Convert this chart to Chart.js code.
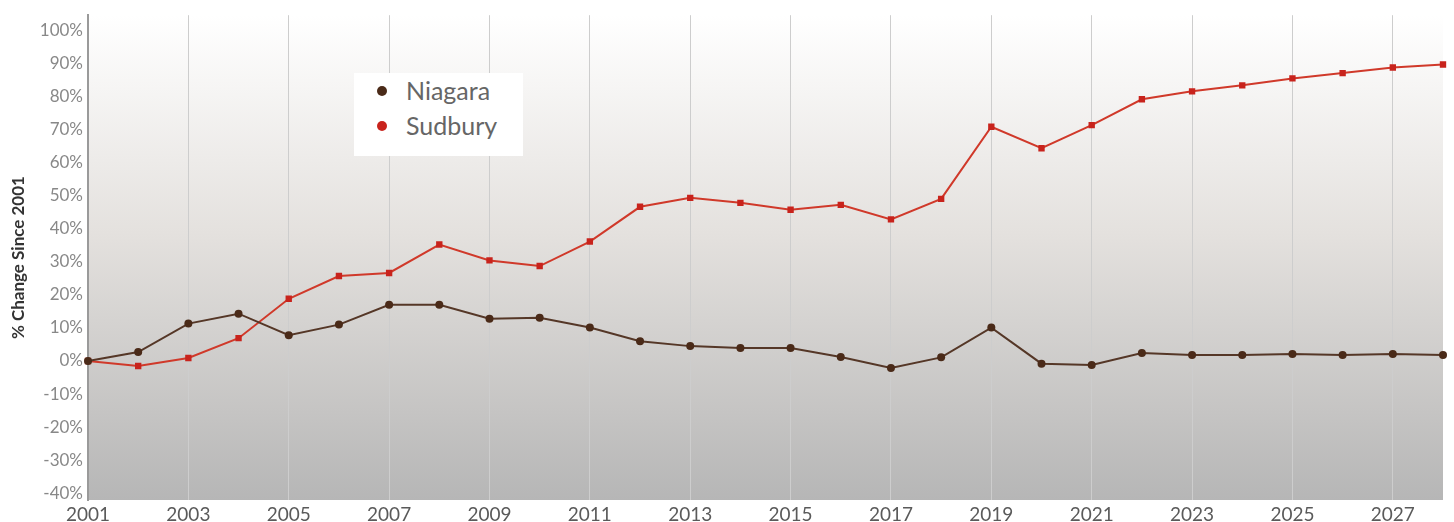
<!DOCTYPE html>
<html>
<head>
<meta charset="utf-8">
<script src="https://cdn.jsdelivr.net/npm/chart.js@4"></script>
<style>
  html, body { margin: 0; padding: 0; background: #ffffff; }
  #wrap { position: relative; width: 1454px; height: 522px; }
  #legend {
    position: absolute; left: 354px; top: 73px; width: 169px; height: 83px;
    background: #ffffff; font-family: Lato, "Open Sans", sans-serif; font-size: 25px; color: #666666;
    box-sizing: border-box; padding-top: 0px;
  }
  #legend .item { position: relative; height: 35px; line-height: 35px; padding-left: 52px; }
  #legend .dot { position: absolute; left: 23px; top: 13px; width: 10px; height: 10px; border-radius: 50%; }
</style>
</head>
<body>
<div id="wrap">
  <canvas id="c" width="1454" height="522"></canvas>
  <div id="legend">
    <div class="item"><span class="dot" style="background:#4a2a18"></span>Niagara</div>
    <div class="item"><span class="dot" style="background:#c8231c"></span>Sudbury</div>
  </div>
</div>
<script>
// Years along the horizontal axis
const years = [2001, 2002, 2003, 2004, 2005, 2006, 2007, 2008, 2009, 2010, 2011, 2012, 2013, 2014,
               2015, 2016, 2017, 2018, 2019, 2020, 2021, 2022, 2023, 2024, 2025, 2026, 2027, 2028];
// % change since 2001
const niagara = [0, 2.7, 11.3, 14.3, 7.8, 11, 17, 17, 12.8, 13.1, 10.1, 6, 4.5, 3.9,
                 3.9, 1.2, -2.1, 1.1, 10.1, -0.8, -1.2, 2.4, 1.8, 1.8, 2.1, 1.8, 2.1, 1.8];
const sudbury = [0, -1.5, 0.9, 6.9, 18.8, 25.7, 26.6, 35.2, 30.4, 28.7, 36.1, 46.6, 49.3, 47.8,
                 45.7, 47.2, 42.8, 49, 70.8, 64.3, 71.3, 79.1, 81.5, 83.3, 85.4, 87, 88.7, 89.6];
// Value axis ticks
const yTicks = [-40, -30, -20, -10, 0, 10, 20, 30, 40, 50, 60, 70, 80, 90, 100];

const plotBackground = {
  id: 'plotBackground',
  beforeDraw(chart) {
    const { ctx, chartArea: a } = chart;
    const g = ctx.createLinearGradient(0, a.top, 0, a.bottom);
    g.addColorStop(0, '#ffffff');
    g.addColorStop(0.45, '#e4e1de');
    g.addColorStop(1, '#b6b6b6');
    ctx.save();
    ctx.fillStyle = g;
    ctx.fillRect(a.left, a.top, a.right - a.left, a.bottom - a.top);
    ctx.restore();
  }
};

new Chart(document.getElementById('c'), {
  type: 'line',
  data: {
    labels: years.map(String),
    datasets: [
      {
        label: 'Niagara', data: niagara,
        borderColor: '#553727', backgroundColor: '#4a2a18',
        borderWidth: 2, pointStyle: 'circle', pointRadius: 4,
        pointBorderWidth: 0, tension: 0
      },
      {
        label: 'Sudbury', data: sudbury,
        borderColor: '#d0392a', backgroundColor: '#c8231c',
        borderWidth: 2, pointStyle: 'rect', pointRadius: 4.5,
        pointBorderWidth: 0, tension: 0
      }
    ]
  },
  options: {
    responsive: false,
    animation: false,
    layout: { padding: { top: 9, right: 11, left: 0, bottom: 0 } },
    plugins: { legend: { display: false }, tooltip: { enabled: false } },
    scales: {
      x: {
        type: 'category',
        offset: false,
        border: { display: false },
        grid: {
          drawTicks: false,
          color: (c) => (c.index % 2 === 0 && c.index > 0) ? '#cdcdcd' : 'rgba(0,0,0,0)',
          lineWidth: 1
        },
        afterFit: (s) => { s.height = 22; },
        ticks: {
          autoSkip: false, maxRotation: 0, padding: 3,
          color: '#5a5a5a',
          font: { family: 'Lato', size: 19 },
          callback: (v, i) => (i % 2 === 0 ? years[i] : '')
        }
      },
      y: {
        min: -42, max: 104.5,
        afterBuildTicks: (s) => { s.ticks = yTicks.map(v => ({ value: v })); },
        afterFit: (s) => { s.width = 88; },
        border: { display: true, color: '#9a9a9a', width: 2 },
        grid: { display: false, drawTicks: false },
        ticks: {
          padding: 5,
          color: '#888888',
          font: { family: 'Lato', size: 17 },
          callback: (v) => v + '%'
        },
        title: {
          display: true, text: '% Change Since 2001',
          color: '#333333', padding: { top: 8, bottom: 0 },
          font: { family: 'Lato', size: 17, weight: 'bold' }
        }
      }
    }
  },
  plugins: [plotBackground]
});
</script>
</body>
</html>
